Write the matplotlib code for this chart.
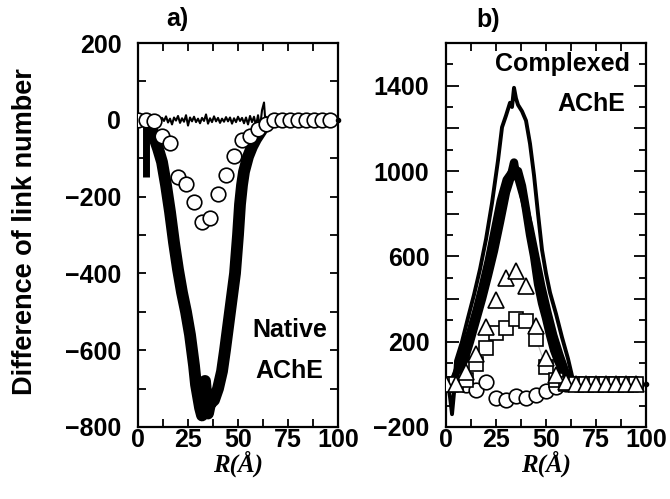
import numpy as np
import matplotlib
matplotlib.use("Agg")
import matplotlib.pyplot as plt
from matplotlib.ticker import MultipleLocator, FixedLocator, FuncFormatter

plt.rcParams['font.family'] = ['Liberation Sans', 'DejaVu Sans']
plt.rcParams['font.weight'] = 'bold'

# ---------------- Panel a data ----------------
a_circ_R = [0, 4, 8, 12, 16, 20, 24, 28, 32, 36, 40, 44, 48, 52, 56, 60, 64,
            68, 72, 76, 80, 84, 88, 92, 96]
a_circ_val = [0, 0, -4, -43, -60, -148, -167, -213, -265, -255, -193, -145, -93,
              -52, -42, -24, -10, 0, 0, 0, 0, 0, 0, 0, 0]

a_flat_R = [5, 6, 7, 8, 9, 10, 11, 12, 13, 14, 15, 16, 17, 18, 19, 20, 21, 22,
            23, 24, 25, 26, 27, 28, 29, 30, 31, 32, 33, 34, 35, 36, 37, 38, 39,
            40, 41, 42, 43, 44, 45, 46, 47, 48, 49, 50, 51, 52, 53, 54, 55, 56,
            57, 58, 59, 60, 61, 62, 63, 64, 65]
a_flat_val = [0, 4, -6, 8, -4, 6, -10, 5, -3, 9, -7, 3, -12, 6, -2, 10, -8, 4,
              -5, 12, -15, 6, -4, 8, -6, 3, -9, 5, -3, 14, -10, 4, -6, 9, -4,
              5, -8, 3, -5, 7, -4, 6, -10, 4, -6, 8, -3, 5, -9, 6, -12, 10,
              -6, 8, -15, 12, -20, 25, 45, -30, 5]

a_bar_R = [4, 4]
a_bar_val = [0, -150]

a_band_R = [6.5, 8, 10, 12, 14, 16, 18, 20, 22, 24, 26, 28, 29, 30,
            31, 32, 33, 33.5, 34, 35, 36, 38, 40, 42, 43.5, 46, 48.5, 50, 51,
            52, 53, 55, 57, 59, 62, 64, 66]
a_band_val = [-15, -45, -75, -110, -170, -240, -320, -390,
              -450, -500, -560, -640, -690, -720, -750, -770, -710, -680, -710,
              -765, -740, -730, -700, -655, -600, -500, -400, -300, -220, -170,
              -135, -96, -70, -50, -26, -10, 0]

# ---------------- Panel b data ----------------
b_R = [0, 5, 10, 15, 20, 25, 30, 35, 40, 45, 50, 55, 60, 65, 70, 75, 80, 85,
       90, 95]
b_tri_val = [0, 0, 60, 140, 270, 395, 500, 530, 460, 275, 125, 45, 10, 0, 0,
             0, 0, 0, 0, 0]
b_sq_val = [0, 0, 20, 95, 170, 240, 265, 305, 295, 213, 80, 20, 0, 0, 0, 0,
            0, 0, 0, 0]
b_circ_val = [0, 0, -5, -25, 10, -62, -72, -55, -62, -50, -30, -12, 0, 0, 0,
              0, 0, 0, 0, 0]

b_outer_R = [1, 2, 3, 4, 5, 8, 11, 14, 17, 20, 23, 26, 28, 30, 32, 33, 34, 35,
             36, 38, 40, 42, 44, 46, 48, 50, 52, 55, 58, 61, 63, 65]
b_outer_val = [0, -60, -140, -40, 110, 200, 312, 420, 540, 680, 850, 1050,
               1205, 1260, 1320, 1300, 1390, 1340, 1310, 1280, 1236, 1128, 980,
               800, 630, 520, 430, 330, 220, 120, 40, 0]

b_mid_R = [3, 6, 9, 12, 15, 18, 21, 24, 27, 30, 33, 36, 39, 42, 45, 48, 51,
           54, 57, 60, 63]
b_mid_val = [0, 80, 160, 250, 350, 460, 580, 720, 860, 960, 1000, 960, 860,
             740, 600, 460, 340, 230, 140, 60, 10]

b_inner_R = [3, 6, 9, 12, 15, 18, 21, 24, 27, 30, 32, 33, 34, 35, 36, 38, 40,
             42, 44, 46, 48, 50, 52, 54, 56, 59, 62, 65]
b_inner_val = [0, 60, 110, 200, 300, 400, 510, 626, 760, 900, 960, 1000, 1040,
               980, 1000, 930, 820, 700, 600, 470, 380, 310, 230, 160, 110, 50,
               10, 0]

x_ticks = [0, 25, 50, 75, 100]
b_ylabels = [-200, 200, 600, 1000, 1400]

FS = 18

fig = plt.figure(figsize=(6.7, 4.99), dpi=100)
axa = fig.add_axes([0.206, 0.1443, 0.2985, 0.7695])
axb = fig.add_axes([0.6657, 0.1443, 0.2985, 0.7695])

# ---- panel a
axa.plot(a_flat_R, a_flat_val, color='black', lw=1.5, zorder=2)
axa.plot(a_bar_R, a_bar_val, color='black', lw=5, solid_capstyle='butt', zorder=2)
axa.plot(a_band_R, a_band_val, color='black', lw=8.5, solid_joinstyle='round',
         solid_capstyle='butt', zorder=2)
axa.plot(a_circ_R, a_circ_val, 'o', ms=10.5, mfc='white', mec='black', mew=1.2, zorder=3)
axa.plot([100], [0], 'o', ms=3, color='black', clip_on=False, zorder=3)
axa.set_xlim(0, 100)
axa.set_ylim(-800, 200)
axa.yaxis.set_major_locator(MultipleLocator(200))
axa.yaxis.set_minor_locator(MultipleLocator(100))
axa.text(19.5, 262, 'a)', ha='center', va='center', fontsize=FS, fontweight='bold')
axa.set_ylabel('Difference of link number', fontsize=19.5, fontweight='bold')
axa.yaxis.set_label_coords(-0.5, 0.51)
axa.text(57, -547, 'Native', fontsize=FS, fontweight='bold', ha='left', va='center')
axa.text(58.5, -655, 'AChE', fontsize=FS, fontweight='bold', ha='left', va='center')
axa.tick_params(axis='y', which='both', length=6)

# ---- panel b
axb.plot(b_outer_R, b_outer_val, color='black', lw=2.8, zorder=2)
axb.plot(b_mid_R, b_mid_val, color='black', lw=5, zorder=2)
axb.plot(b_inner_R, b_inner_val, color='black', lw=6, zorder=2)
axb.plot(b_R, b_circ_val, 'o', ms=10.5, mfc='white', mec='black', mew=1.2, zorder=3)
axb.plot(b_R, b_sq_val, '-', color='#bbbbbb', lw=0.8, zorder=3)
axb.plot(b_R, b_sq_val, 's', ms=9.5, mfc='white', mec='black', mew=1.2, zorder=3)
axb.plot(b_R, b_tri_val, '^', ms=11.5, mfc='white', mec='black', mew=1.2, zorder=4)
axb.plot([100], [0], 'o', ms=3, color='black', clip_on=False, zorder=4)
axb.set_xlim(0, 100)
axb.set_ylim(-200, 1600)
axb.yaxis.set_major_locator(MultipleLocator(200))
axb.yaxis.set_major_formatter(FuncFormatter(
    lambda v, p: f"{int(round(v))}".replace('-', '\u2212') if int(round(v)) in b_ylabels else ''))
axb.yaxis.set_minor_locator(MultipleLocator(100))
axb.text(21, 1708, 'b)', ha='center', va='center', fontsize=FS, fontweight='bold')
axb.text(92, 1503, 'Complexed', fontsize=FS, fontweight='bold', ha='right', va='center')
axb.text(89.5, 1315, 'AChE', fontsize=FS, fontweight='bold', ha='right', va='center')
axb.tick_params(axis='y', which='major', length=9)
axb.tick_params(axis='y', which='minor', length=5)

for ax in (axa, axb):
    ax.xaxis.set_major_locator(FixedLocator(x_ticks))
    ax.xaxis.set_minor_locator(MultipleLocator(12.5))
    ax.tick_params(which='both', direction='in', top=True, right=True,
                   width=1.3, labelsize=FS)
    ax.tick_params(axis='y', which='major', pad=12)
    ax.tick_params(axis='x', which='both', length=6)
    ax.tick_params(axis='x', which='major', pad=1)
    for lbl in ax.get_xticklabels() + ax.get_yticklabels():
        lbl.set_fontweight('bold')
    for s in ax.spines.values():
        s.set_linewidth(1.6)
    ax.set_xlabel('R(Å)', fontsize=FS, fontweight='bold', fontstyle='italic',
                  family='Liberation Serif', labelpad=-1)

fig.savefig('out.png', dpi=100)
